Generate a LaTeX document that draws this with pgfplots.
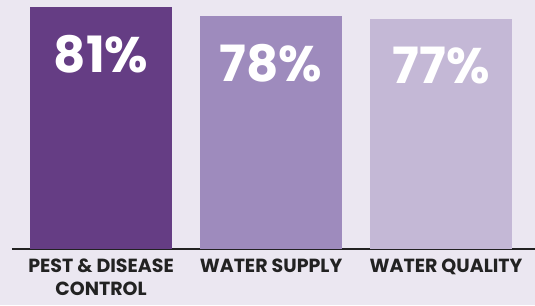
\documentclass[border=0pt]{standalone}
\usepackage{pgfplots}
\pgfplotsset{compat=1.18}
\usepackage{fontspec}
\setmainfont{Poppins}
\definecolor{bgcol}{HTML}{EBE7F1}
\definecolor{barA}{HTML}{653D84}
\definecolor{barB}{HTML}{9E8BBD}
\definecolor{barC}{HTML}{C4B8D6}
\definecolor{txt}{HTML}{222222}
\begin{document}
\begin{tikzpicture}
\useasboundingbox (-12pt,-56pt) rectangle (523pt,249pt);
\fill[bgcol] (-12pt,-56pt) rectangle (523pt,249pt);
\begin{axis}[
  at={(0pt,0pt)}, anchor=south west,
  scale only axis, width=523pt, height=249pt,
  xmin=-0.524, xmax=2.553, ymin=0, ymax=83.3,
  axis x line*=bottom, axis y line=none,
  x axis line style={line width=1.5pt, txt, -},
  xtick={0,1,2},
  xticklabels={{PEST \& DISEASE\\CONTROL},{WATER SUPPLY},{\hspace*{10pt}WATER QUALITY}},
  xticklabel style={align=center, font=\fontsize{19}{23.5}\selectfont\bfseries, text=txt, yshift=-6pt},
  major tick length=0pt,
  ytick=\empty,
  ybar, bar width=142pt, bar shift=0pt,
  /pgf/number format/assume math mode=true,
  nodes near coords={\pgfmathprintnumber{\pgfplotspointmeta}\%},
  every node near coord/.append style={anchor=center, yshift=-47pt, text=white, font=\fontsize{50}{50}\selectfont\bfseries},
]
\addplot[fill=barA, draw=none] coordinates {(0,81)};
\addplot[fill=barB, draw=none] coordinates {(1,78)};
\addplot[fill=barC, draw=none] coordinates {(2,77)};
\end{axis}
\end{tikzpicture}
\end{document}
